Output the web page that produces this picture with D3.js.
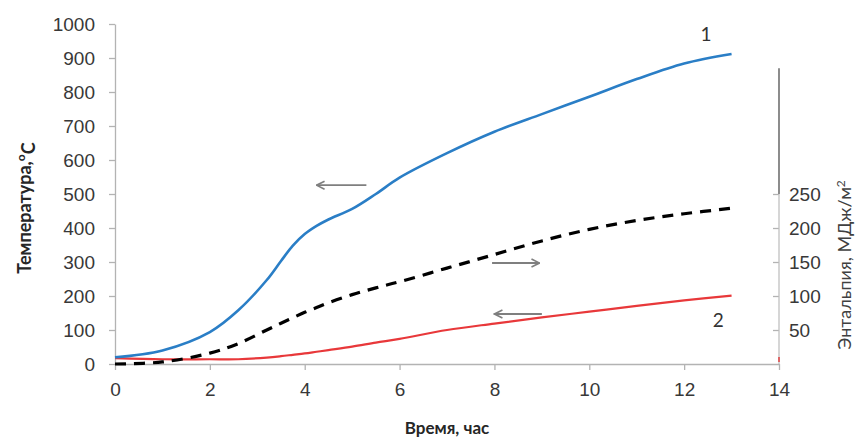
<!DOCTYPE html>
<html>
<head>
<meta charset="utf-8">
<script src="https://cdn.jsdelivr.net/npm/d3@7"></script>
<style>
  body { margin: 0; background: #fff; }
  svg { font-family: Lato, 'Open Sans', sans-serif; }
  .tick text { fill: #383838; font-size: 19px; }
</style>
</head>
<body>
<div id="wrapper"></div>
<script>
// Data
const hours = [0, 1, 2, 2.6, 3.2, 3.5, 3.75, 4, 4.25, 4.5, 5, 5.5, 6, 7, 8, 9, 10, 11, 12, 13]
const temp1 = [20, 40, 94, 158, 247, 303, 348, 382, 406, 425, 456, 500, 548, 620, 683, 735, 786, 838, 884, 912]
const temp2 = [17, 14, 14, 14, 19, 23, 27, 31, 36, 41, 51, 63, 74, 100, 119, 137, 154, 171, 187, 201]
const enthalpy = [0, 3, 16, 30, 50, 60, 68, 76, 83, 90, 102, 112, 121, 141, 161, 181, 198, 211, 221, 229]

const xTicks = [0, 2, 4, 6, 8, 10, 12, 14]
const yTicks = [0, 100, 200, 300, 400, 500, 600, 700, 800, 900, 1000]
const y2Ticks = [50, 100, 150, 200, 250]

// arrows: [from hour, to hour, value on left axis]
const arrows = [
  [5.3, 4.25, 526],
  [7.95, 8.95, 297],
  [9.0, 8.0, 147],
]

function draw() {
  const dimensions = {
    width: 855,
    height: 440,
    margin: { top: 24, right: 76, bottom: 76, left: 115 },
  }
  dimensions.boundedWidth = dimensions.width - dimensions.margin.left - dimensions.margin.right
  dimensions.boundedHeight = dimensions.height - dimensions.margin.top - dimensions.margin.bottom

  const wrapper = d3.select('#wrapper')
    .append('svg')
    .attr('width', dimensions.width)
    .attr('height', dimensions.height)

  const defs = wrapper.append('defs')
  defs.append('marker')
    .attr('id', 'head')
    .attr('viewBox', '0 0 10 10')
    .attr('refX', 9)
    .attr('refY', 5)
    .attr('markerWidth', 10)
    .attr('markerHeight', 10)
    .attr('markerUnits', 'userSpaceOnUse')
    .attr('orient', 'auto')
    .append('path')
    .attr('d', 'M1,1 L9,5 L1,9')
    .attr('fill', 'none')
    .attr('stroke', '#7f7f7f')
    .attr('stroke-width', 1.6)

  const bounds = wrapper.append('g')
    .attr('transform', `translate(${dimensions.margin.left},${dimensions.margin.top})`)

  const xScale = d3.scaleLinear().domain([0, 14]).range([0, dimensions.boundedWidth])
  const yScale = d3.scaleLinear().domain([0, 1000]).range([dimensions.boundedHeight, 0])
  const y2Scale = d3.scaleLinear().domain([0, 500]).range([dimensions.boundedHeight, 0])

  // axes
  const xAxis = bounds.append('g')
    .attr('transform', `translate(0,${dimensions.boundedHeight})`)
    .call(d3.axisBottom(xScale).tickValues(xTicks).tickSize(6).tickPadding(13).tickSizeOuter(0))
  const yAxis = bounds.append('g')
    .call(d3.axisLeft(yScale).tickValues(yTicks).tickFormat(d3.format('d'))
      .tickSize(6).tickPadding(14).tickSizeOuter(0))
  ;[xAxis, yAxis].forEach((a) => {
    a.select('.domain').attr('stroke', '#b3b3b3').attr('stroke-width', 1.3)
    a.selectAll('.tick line').attr('stroke', '#b3b3b3').attr('stroke-width', 1.3)
  })

  // right axis (enthalpy)
  const y2Axis = bounds.append('g')
    .attr('transform', `translate(${dimensions.boundedWidth},0)`)
    .call(d3.axisRight(y2Scale).tickValues(y2Ticks).tickSize(0).tickPadding(10).tickSizeOuter(0))
  y2Axis.select('.domain').remove()
  y2Axis.selectAll('.tick line').attr('x2', -6).attr('stroke', '#b3b3b3').attr('stroke-width', 1.3)
  y2Axis.append('line')
    .attr('y1', y2Scale(0)).attr('y2', y2Scale(250))
    .attr('stroke', '#c0c0c0').attr('stroke-width', 1.3)
  y2Axis.append('line')
    .attr('y1', y2Scale(250)).attr('y2', y2Scale(435))
    .attr('stroke', '#808080').attr('stroke-width', 1.8)
  y2Axis.append('line')
    .attr('y1', y2Scale(0) - 2).attr('y2', y2Scale(0) - 7)
    .attr('stroke', '#e04040').attr('stroke-width', 1.5)

  // lines
  const line = (vals, scale) => d3.line()
    .x((d, i) => xScale(hours[i]))
    .y((d) => scale(d))
    .curve(d3.curveCatmullRom.alpha(0.5))(vals)

  bounds.append('path')
    .attr('d', line(temp2, yScale))
    .attr('fill', 'none').attr('stroke', '#e8383a').attr('stroke-width', 2.2)
  bounds.append('path')
    .attr('d', line(enthalpy, y2Scale))
    .attr('fill', 'none').attr('stroke', '#000').attr('stroke-width', 3.2)
    .attr('stroke-dasharray', '11 8')
  bounds.append('path')
    .attr('d', line(temp1, yScale))
    .attr('fill', 'none').attr('stroke', '#2a7ec6').attr('stroke-width', 2.6)

  // arrows
  bounds.selectAll('.arrow')
    .data(arrows)
    .enter()
    .append('line')
    .attr('class', 'arrow')
    .attr('x1', (d) => xScale(d[0]))
    .attr('x2', (d) => xScale(d[1]))
    .attr('y1', (d) => yScale(d[2]))
    .attr('y2', (d) => yScale(d[2]))
    .attr('stroke', '#7f7f7f')
    .attr('stroke-width', 1.8)
    .attr('marker-end', 'url(#head)')

  // curve numbers
  bounds.append('text')
    .attr('x', xScale(12.46)).attr('y', yScale(970))
    .attr('dy', '0.35em').attr('text-anchor', 'middle')
    .style('font-size', '19px').attr('fill', '#333')
    .text('1')
  bounds.append('text')
    .attr('x', xScale(12.72)).attr('y', yScale(129))
    .attr('dy', '0.35em').attr('text-anchor', 'middle')
    .style('font-size', '19px').attr('fill', '#333')
    .text('2')

  // axis titles
  wrapper.append('text')
    .attr('x', dimensions.margin.left + dimensions.boundedWidth / 2)
    .attr('y', 428)
    .attr('dy', '0.35em')
    .attr('text-anchor', 'middle')
    .style('font-size', '17px').style('font-weight', 'bold').attr('fill', '#262626')
    .text('Время, час')

  const yLabel = wrapper.append('text')
    .attr('transform', 'translate(25,208) rotate(-90)')
    .attr('text-anchor', 'middle')
    .attr('dy', '0.35em')
    .style('font-size', '18px').style('font-weight', 'bold').attr('fill', '#262626')
  yLabel.append('tspan').text('Температура,')
  yLabel.append('tspan').attr('dy', '-0.55em').style('font-size', '12px').text('o')
  yLabel.append('tspan').attr('dy', '0.55em').text('С')

  const y2Label = wrapper.append('text')
    .attr('transform', 'translate(845,265) rotate(-90)')
    .attr('text-anchor', 'middle')
    .attr('dy', '0.35em')
    .style('font-size', '18px').attr('fill', '#404040')
  y2Label.append('tspan').text('Энтальпия, МДж/м')
  y2Label.append('tspan').attr('dy', '-0.55em').style('font-size', '12px').text('2')
}
draw()
</script>
</body>
</html>
